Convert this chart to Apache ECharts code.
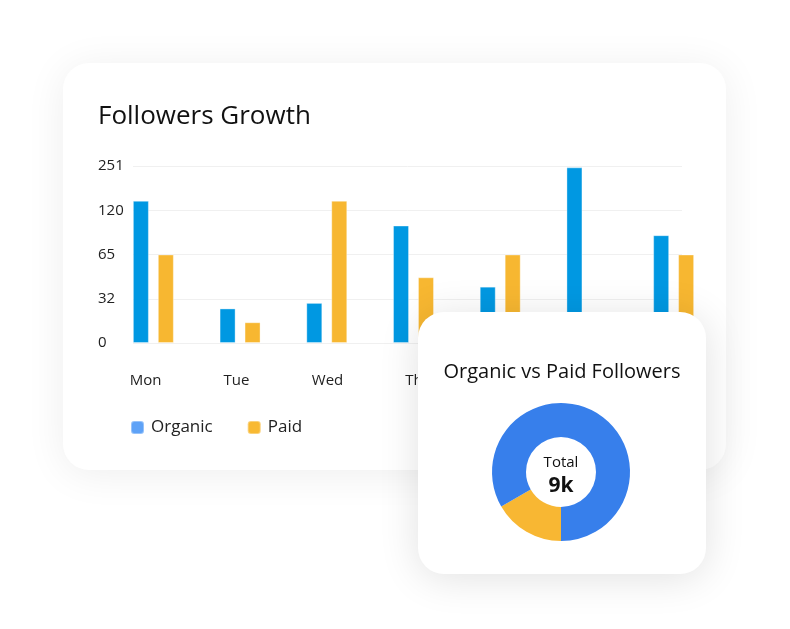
<!DOCTYPE html>
<html>
<head>
<meta charset="utf-8">
<script src="https://cdn.jsdelivr.net/npm/echarts@6/dist/echarts.min.js"></script>
<style>
html, body { margin: 0; padding: 0; background: #fff; }
#container { width: 790px; height: 629px; }
</style>
</head>
<body>
<div id="container"></div>
<script>
var days = ['Mon', 'Tue', 'Wed', 'Thu', 'Fri', 'Sat', 'Sun'];
var yTicks = [0, 32, 65, 120, 251];
var organic = [148, 25, 29, 101, 41, 247, 89];
var paid = [65, 15, 148, 48, 65, 18, 65];
var donutNames = ['Paid', 'Organic'];
var donutValues = [1500, 7500];

var FONT = '"Open Sans", "Noto Sans", sans-serif';

// ticks are evenly spaced but not linear -> map a value onto its tick position
function tickPos(v) {
	for (var i = 1; i < yTicks.length; i++) {
		if (v <= yTicks[i]) {
			return i - 1 + (v - yTicks[i - 1]) / (yTicks[i] - yTicks[i - 1]);
		}
	}
	return yTicks.length - 1;
}

function totalText() {
	var sum = 0;
	for (var i = 0; i < donutValues.length; i++) sum += donutValues[i];
	return Math.round(sum / 1000) + 'k';
}

function getOption() {
	var option = {
		backgroundColor: '#fff',
		textStyle: { fontFamily: FONT },
		title: [
			{
				text: 'Followers Growth',
				left: 93,
				top: 99,
				textStyle: { fontSize: 26, fontWeight: 500, color: '#111', fontFamily: FONT }
			},
			{
				text: 'Organic vs Paid Followers',
				left: 557,
				top: 357,
				textAlign: 'center',
				z: 31,
				textStyle: { fontSize: 20, fontWeight: 'normal', color: '#111', fontFamily: FONT }
			}
		],
		legend: {
			left: 125,
			top: 414,
			icon: 'roundRect',
			itemWidth: 13,
			itemHeight: 13,
			itemGap: 34,
			selectedMode: false,
			textStyle: { fontSize: 17, color: '#222', padding: [0, 0, 0, 2] },
			data: [
				{ name: 'Organic', itemStyle: { color: '#5ea2f7' } },
				{ name: 'Paid', itemStyle: { color: '#f8b933' } }
			]
		},
		graphic: [
			{
				type: 'rect',
				z: -1,
				shape: { x: 63, y: 63, width: 663, height: 407, r: 26 },
				style: { fill: '#fff', shadowBlur: 40, shadowColor: 'rgba(0,0,0,0.07)', shadowOffsetY: 4 }
			},
			{
				type: 'rect',
				z: 20,
				shape: { x: 418, y: 312, width: 288, height: 262, r: 26 },
				style: { fill: '#fff', shadowBlur: 40, shadowColor: 'rgba(0,0,0,0.12)', shadowOffsetY: 4 }
			},
			{
				type: 'text',
				z: 31,
				x: 561,
				y: 463,
				style: { text: 'Total', align: 'center', verticalAlign: 'middle', font: '15px ' + FONT, fill: '#111' }
			},
			{
				type: 'text',
				z: 31,
				x: 561,
				y: 486,
				style: { text: totalText(), align: 'center', verticalAlign: 'middle', font: 'bold 21px ' + FONT, fill: '#111' }
			}
		],
		grid: [
			{ left: 110, right: 73, top: 166, bottom: 286 },	// bars
			{ left: 133, right: 108, top: 166, bottom: 286 },	// split lines + y labels
			{ left: 100, right: 53, top: 166, bottom: 286 }		// day labels
		],
		xAxis: [
			{
				type: 'category', gridIndex: 0, data: days,
				axisLine: { show: false }, axisTick: { show: false }, axisLabel: { show: false }
			},
			{ type: 'value', gridIndex: 1, min: 0, max: 1, show: false },
			{
				type: 'category', gridIndex: 2, data: days,
				axisLine: { show: false }, axisTick: { show: false },
				axisLabel: { fontSize: 15, color: '#222', margin: 30 }
			}
		],
		yAxis: [
			{ type: 'value', gridIndex: 0, min: 0, max: 4, interval: 1, show: false },
			{
				type: 'value', gridIndex: 1, min: 0, max: 4, interval: 1,
				axisLine: { show: false }, axisTick: { show: false },
				axisLabel: {
					align: 'left', margin: 35, fontSize: 15, color: '#222',
					formatter: function (v) { return yTicks[v]; }
				},
				splitLine: { lineStyle: { color: '#f0f0f0' } }
			},
			{ type: 'value', gridIndex: 2, min: 0, max: 4, show: false }
		],
		series: [
			{
				name: 'Organic', type: 'bar', xAxisIndex: 0, yAxisIndex: 0,
				barWidth: 16, barGap: '56%', z: 2,
				itemStyle: { color: '#0098e2', borderColor: 'rgba(255,255,255,0.35)', borderWidth: 1 },
				data: organic.map(tickPos)
			},
			{
				name: 'Paid', type: 'bar', xAxisIndex: 0, yAxisIndex: 0,
				barWidth: 16, barGap: '56%', z: 2,
				itemStyle: { color: '#f7b731', borderColor: 'rgba(255,255,255,0.35)', borderWidth: 1 },
				data: paid.map(tickPos)
			},
			{
				name: 'Followers', type: 'pie', z: 30,
				center: [561, 472], radius: [35, 69],
				startAngle: 270, silent: true,
				label: { show: false }, labelLine: { show: false },
				color: ['#f8b733', '#377feb'],
				data: donutNames.map(function (n, i) { return { name: n, value: donutValues[i] }; })
			}
		]
	};
	return option;
}

var myChart = echarts.init(document.getElementById('container'));
myChart.setOption(getOption());
</script>
</body>
</html>
